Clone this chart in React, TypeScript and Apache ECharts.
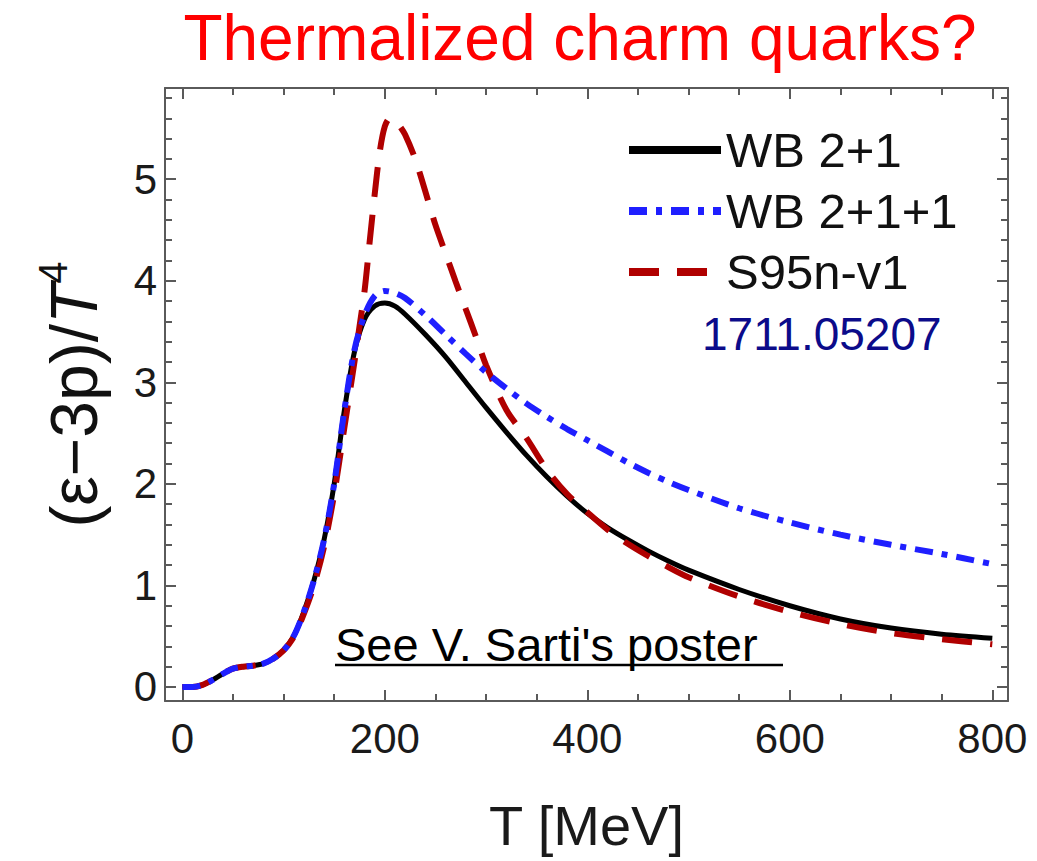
import React, { useEffect, useRef } from "react";
import * as echarts from "echarts";

const TITLE = "Thermalized charm quarks?";
const X_NAME = "T [MeV]";
const Y_NAME = "(ε−3p)/{t|T}{s|4}";
const NOTE = "See V. Sarti's poster";
const REF = "1711.05207";
const SERIES_NAMES = ["WB 2+1", "WB 2+1+1", "S95n-v1"];

const X_MIN = -17.1;
const X_MAX = 815.5;
const Y_MIN = -0.138;
const Y_MAX = 5.898;

const X_LABELS = [0, 200, 400, 600, 800];
const X_MINOR = [50, 100, 150, 250, 300, 350, 450, 500, 550, 650, 700, 750];
const Y_LABELS = [0, 1, 2, 3, 4, 5];
const Y_MINOR = [0.2, 0.4, 0.6, 0.8, 1.2, 1.4, 1.6, 1.8, 2.2, 2.4, 2.6, 2.8, 3.2, 3.4, 3.6, 3.8, 4.2, 4.4, 4.6, 4.8, 5.2, 5.4, 5.6, 5.8];

// WB 2+1
const wb21T = [0, 10, 20, 30, 40, 50, 60, 70, 80, 90, 100, 110, 120, 130, 140, 150, 160, 170, 180, 190, 200, 210, 220, 240, 260, 280, 300, 320, 340, 360, 380, 400, 420, 440, 460, 480, 500, 550, 600, 650, 700, 750, 800];
const wb21V = [0, 0, 0.02, 0.07, 0.13, 0.18, 0.2, 0.21, 0.23, 0.28, 0.36, 0.5, 0.74, 1.05, 1.45, 2.0, 2.72, 3.3, 3.62, 3.75, 3.78, 3.75, 3.67, 3.47, 3.25, 3.0, 2.75, 2.51, 2.28, 2.07, 1.88, 1.71, 1.57, 1.45, 1.34, 1.24, 1.15, 0.96, 0.8, 0.67, 0.58, 0.52, 0.48];

// WB 2+1+1
const wb211T = [0, 10, 20, 30, 40, 50, 60, 70, 80, 90, 100, 110, 120, 130, 140, 150, 160, 170, 180, 190, 200, 210, 220, 240, 260, 280, 300, 320, 340, 360, 380, 400, 420, 440, 460, 480, 500, 550, 600, 650, 700, 750, 800];
const wb211V = [0, 0, 0.02, 0.07, 0.13, 0.18, 0.2, 0.21, 0.23, 0.28, 0.36, 0.5, 0.74, 1.05, 1.45, 2.0, 2.72, 3.32, 3.66, 3.85, 3.9, 3.88, 3.83, 3.66, 3.47, 3.28, 3.1, 2.94, 2.79, 2.66, 2.54, 2.43, 2.32, 2.21, 2.11, 2.02, 1.94, 1.76, 1.62, 1.5, 1.4, 1.31, 1.21];

// S95n-v1
const s95T = [0, 10, 20, 30, 40, 50, 60, 70, 80, 90, 100, 110, 120, 130, 140, 150, 160, 170, 175, 180, 185, 190, 195, 200, 205, 210, 215, 220, 230, 240, 250, 260, 270, 280, 290, 300, 320, 340, 360, 380, 400, 420, 440, 460, 480, 500, 550, 600, 650, 700, 750, 800];
const s95V = [0, 0, 0.02, 0.07, 0.13, 0.18, 0.2, 0.21, 0.23, 0.28, 0.36, 0.49, 0.72, 1.0, 1.38, 1.9, 2.55, 3.2, 3.55, 3.9, 4.38, 4.85, 5.27, 5.52, 5.6, 5.58, 5.52, 5.44, 5.2, 4.88, 4.55, 4.27, 3.99, 3.72, 3.45, 3.17, 2.73, 2.45, 2.14, 1.9, 1.72, 1.55, 1.41, 1.29, 1.18, 1.08, 0.89, 0.74, 0.62, 0.53, 0.47, 0.42];

const FONT = "'Liberation Sans', Arial, Helvetica, sans-serif";
const FRAME = "#5a5a5a";

const zip = (xs: number[], ys: number[]) => xs.map((x, i) => [x, ys[i]]);

function xAxisDef(position: "bottom" | "top", ticks: number[], len: number, showLine: boolean, labels: boolean) {
  return {
    type: "value",
    position,
    min: X_MIN,
    max: X_MAX,
    splitLine: { show: false },
    axisLine: { show: showLine, onZero: false, lineStyle: { color: FRAME, width: 2 } },
    axisTick: { show: true, inside: true, length: len, customValues: ticks, lineStyle: { color: FRAME, width: 2 } },
    axisLabel: labels
      ? { show: true, customValues: X_LABELS, fontSize: 42, fontFamily: FONT, color: "#1a1a1a", margin: 16 }
      : { show: false },
  };
}

function yAxisDef(position: "left" | "right", ticks: number[], len: number, showLine: boolean, labels: boolean) {
  return {
    type: "value",
    position,
    min: Y_MIN,
    max: Y_MAX,
    splitLine: { show: false },
    axisLine: { show: showLine, onZero: false, lineStyle: { color: FRAME, width: 2 } },
    axisTick: { show: true, inside: true, length: len, customValues: ticks, lineStyle: { color: FRAME, width: 2 } },
    axisLabel: labels
      ? { show: true, customValues: Y_LABELS, fontSize: 42, fontFamily: FONT, color: "#1a1a1a", margin: 8 }
      : { show: false },
  };
}

export default function App() {
  const ref = useRef<HTMLDivElement>(null);

  useEffect(() => {
    document.body.style.margin = "0";
    if (!ref.current) return;
    const chart = echarts.init(ref.current, null, { renderer: "svg" });

    const xAxes: any[] = [
      {
        ...xAxisDef("bottom", X_LABELS, 11, true, true),
        name: X_NAME,
        nameLocation: "middle",
        nameGap: 96,
        nameTextStyle: { fontSize: 56, fontFamily: FONT, color: "#1a1a1a" },
      },
      xAxisDef("bottom", X_MINOR, 7, false, false),
      xAxisDef("top", X_LABELS, 11, true, false),
      xAxisDef("top", X_MINOR, 7, false, false),
    ];
    const yAxes: any[] = [
      {
        ...yAxisDef("left", Y_LABELS, 11, true, true),
        name: Y_NAME,
        nameLocation: "middle",
        nameGap: 50,
        nameTextStyle: {
          fontSize: 66,
          fontFamily: FONT,
          color: "#111",
          rich: {
            t: { fontSize: 66, fontFamily: FONT, fontStyle: "italic", color: "#111" },
            s: { fontSize: 40, fontFamily: FONT, color: "#111", padding: [0, 0, 42, 0] },
          },
        },
      },
      yAxisDef("left", Y_MINOR, 7, false, false),
      yAxisDef("right", Y_LABELS, 11, true, false),
      yAxisDef("right", Y_MINOR, 7, false, false),
    ];

    chart.setOption({
      animation: false,
      backgroundColor: "#ffffff",
      grid: { left: 165, right: 29, top: 88, bottom: 160, containLabel: false },
      xAxis: xAxes,
      yAxis: yAxes,
      legend: {
        orient: "vertical",
        left: 625,
        top: 122,
        padding: 0,
        itemWidth: 92,
        itemHeight: 20,
        itemGap: 5,
        data: SERIES_NAMES,
        textStyle: { fontSize: 49, lineHeight: 56, fontFamily: FONT, color: "#111" },
        lineStyle: { width: 8 },
        itemStyle: { opacity: 0 },
      },
      series: [
        {
          name: SERIES_NAMES[0],
          type: "line",
          data: zip(wb21T, wb21V),
          smooth: 0.3,
          symbol: "none",
          z: 2,
          lineStyle: { color: "#000000", width: 5 },
          itemStyle: { color: "#000000" },
        },
        {
          name: SERIES_NAMES[2],
          type: "line",
          data: zip(s95T, s95V),
          smooth: 0.3,
          symbol: "none",
          z: 3,
          lineStyle: { color: "#b00000", width: 6, type: [30, 18] },
          itemStyle: { color: "#b00000" },
        },
        {
          name: SERIES_NAMES[1],
          type: "line",
          data: zip(wb211T, wb211V),
          smooth: 0.3,
          symbol: "none",
          z: 4,
          lineStyle: { color: "#1f1fff", width: 6, type: [18, 9, 6, 9] },
          itemStyle: { color: "#1f1fff" },
        },
      ],
      graphic: [
        {
          type: "text",
          x: 580,
          y: 38,
          style: { text: TITLE, fontSize: 64, fontFamily: FONT, fill: "#ff0000", align: "center", verticalAlign: "middle" },
        },
        {
          type: "text",
          x: 702,
          y: 334,
          style: { text: REF, fontSize: 46, fontFamily: FONT, fill: "#0b0b8a", align: "left", verticalAlign: "middle" },
        },
        {
          type: "text",
          x: 335,
          y: 644,
          style: { text: NOTE, fontSize: 47, fontFamily: FONT, fill: "#000000", align: "left", verticalAlign: "middle" },
        },
        {
          type: "line",
          shape: { x1: 335, y1: 665, x2: 783, y2: 665 },
          style: { stroke: "#000000", lineWidth: 2.5 },
        },
      ],
    });

    return () => chart.dispose();
  }, []);

  return <div ref={ref} style={{ width: 1037, height: 861 }} />;
}
